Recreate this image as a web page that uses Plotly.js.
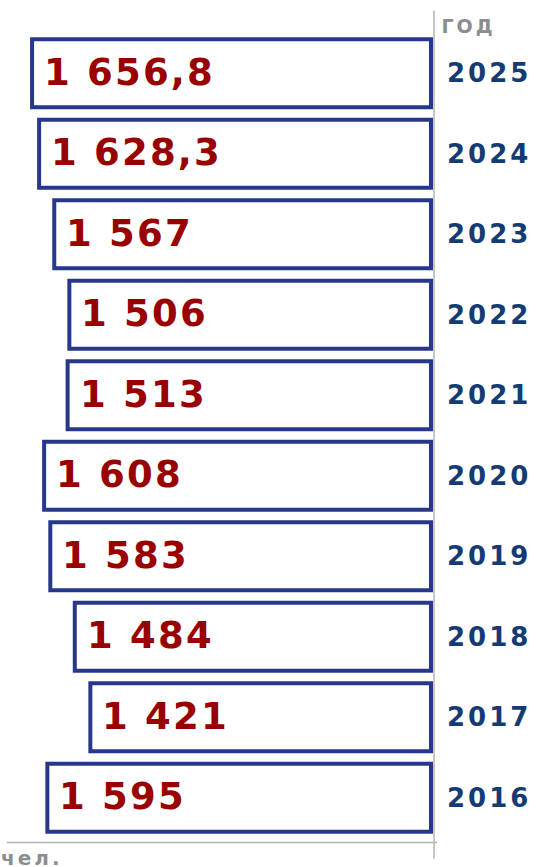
<!DOCTYPE html>
<html>
<head>
<meta charset="utf-8">
<script src="https://cdn.plot.ly/plotly-3.0.1.min.js"></script>
<style>
  html, body { margin: 0; padding: 0; background: #ffffff; }
  #chart { width: 540px; height: 867px; }
  .annotation-text.val { letter-spacing: 2.2px; }
  #chart .ytick text { letter-spacing: 3px; }
  #chart .annotation-text.unitlbl { letter-spacing: 3px; }
</style>
</head>
<body>
<div id="chart"></div>
<script>
// Data (bottom to top)
const years = ['2016', '2017', '2018', '2019', '2020', '2021', '2022', '2023', '2024', '2025'];
const values = [1595, 1421, 1484, 1583, 1608, 1513, 1506, 1567, 1628.3, 1656.8];
const valueLabels = ['1 595', '1 421', '1 484', '1 583', '1 608', '1 513', '1 506', '1 567', '1 628,3', '1 656,8'];
const unitX = 'чел.';
const unitY = 'ГОД';

// Axis start (bars grow leftwards from this value)
const AXIS_START = 43;

const FONT = 'DejaVu Sans, Verdana, sans-serif';
const BAR_LINE = '#27388a';
const VAL_COLOR = '#990000';
const YEAR_COLOR = '#143b74';
const GREY = '#8c8d8f';
const LINE_GREY = '#b4b4b4';

const trace = {
  type: 'bar',
  orientation: 'h',
  y: years,
  x: values.map(v => v - AXIS_START),
  base: AXIS_START,
  marker: { color: '#ffffff', line: { color: BAR_LINE, width: 4 } },
  hoverinfo: 'skip'
};

// on a category axis annotations take the category's serial number
const annotations = years.map((yr, i) => ({
  x: values[i],
  y: i,
  xref: 'x',
  yref: 'y',
  text: valueLabels[i],
  showarrow: false,
  xanchor: 'left',
  yanchor: 'middle',
  align: 'left',
  xshift: 10,
  yshift: 1,
  font: { family: FONT, size: 37, color: VAL_COLOR, weight: 'bold' }
}));

annotations.push({
  x: 0.012, y: -0.0075, xref: 'paper', yref: 'paper',
  text: unitX, showarrow: false, xanchor: 'left', yanchor: 'top',
  font: { family: FONT, size: 20, color: GREY, weight: 'bold' }
});
annotations.push({
  x: 1.024, y: 1.0083, xref: 'paper', yref: 'paper',
  text: unitY, showarrow: false, xanchor: 'left', yanchor: 'middle',
  font: { family: FONT, size: 19, color: GREY, weight: 'bold' }
});

const layout = {
  width: 540,
  height: 867,
  margin: { l: 0, r: 106, t: 33, b: 29, pad: 0 },
  paper_bgcolor: '#ffffff',
  plot_bgcolor: '#ffffff',
  showlegend: false,
  bargap: 0.156,
  xaxis: {
    range: [1786.5, 30.8],
    showgrid: false,
    zeroline: false,
    showline: false,
    showticklabels: false,
    ticks: ''
  },
  yaxis: {
    type: 'category',
    categoryorder: 'array',
    categoryarray: years,
    range: [-0.5, years.length - 0.5],
    tickmode: 'array',
    tickvals: years,
    ticktext: years,
    side: 'right',
    showgrid: false,
    zeroline: false,
    showline: false,
    ticks: '',
    ticklabelstandoff: 12,
    tickfont: { family: FONT, size: 26, color: YEAR_COLOR, weight: 'bold' }
  },
  shapes: [
    { type: 'line', xref: 'paper', yref: 'paper', x0: 1, x1: 1, y0: -0.0257, y1: 1.028,
      line: { color: LINE_GREY, width: 1.5 } },
    { type: 'line', xref: 'paper', yref: 'paper', x0: 0.016, x1: 1.007, y0: -0.0055, y1: -0.0055,
      line: { color: LINE_GREY, width: 1.5 } }
  ],
  annotations: annotations
};

Plotly.newPlot('chart', [trace], layout, { staticPlot: true, displayModeBar: false }).then(() => {
  document.querySelectorAll('#chart .annotation-text').forEach((t, i) => {
    if (i < years.length) t.classList.add('val');
    else t.classList.add('unitlbl');
  });
});
</script>
</body>
</html>
